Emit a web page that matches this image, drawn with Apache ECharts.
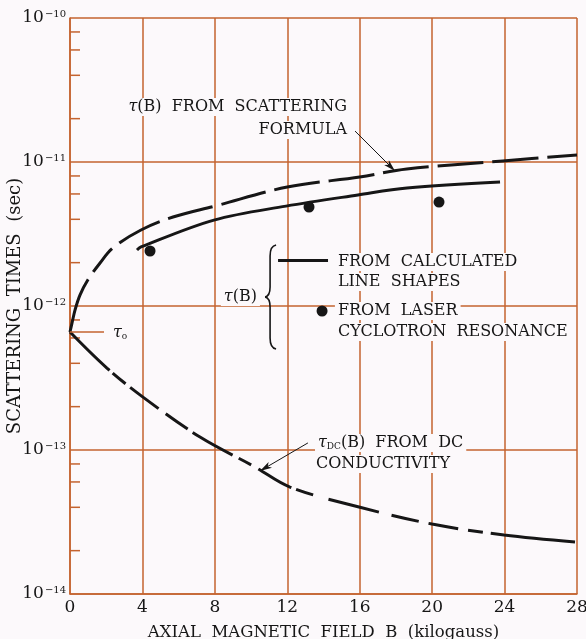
<!DOCTYPE html>
<html>
<head>
<meta charset="utf-8">
<script src="https://cdn.jsdelivr.net/npm/echarts@6/dist/echarts.min.js"></script>
<style>
  html, body { margin: 0; padding: 0; background: #fcf9fb; }
  #c { width: 586px; height: 639px; }
</style>
</head>
<body>
<div id="c"></div>
<script>
// Scattering times vs axial magnetic field (log scale in seconds)
const fieldMin = 0, fieldMax = 28, fieldStep = 4;
const tauMin = 1e-14, tauMax = 1e-10;
const decadeExps = [-14, -13, -12, -11];
const minorMantissas = [2, 4, 6, 8];
const tau0 = 6.6e-13;

// tau(B) from the scattering formula
const formulaB   = [0, 0.11, 0.28, 0.55, 0.99, 1.66, 2.37, 3.92, 5.69, 8, 12, 16, 18.6, 23.9, 28];
const formulaTau = [6.6e-13, 7.6e-13, 9.4e-13, 1.19e-12, 1.52e-12, 1.99e-12, 2.53e-12, 3.37e-12,
                    4.15e-12, 4.94e-12, 6.7e-12, 7.87e-12, 8.93e-12, 1.016e-11, 1.12e-11];

// tau(B) from calculated line shapes
const shapeB   = [3.7, 3.92, 7.95, 11.93, 15.9, 18.61, 23.75];
const shapeTau = [2.45e-12, 2.57e-12, 3.95e-12, 4.94e-12, 5.9e-12, 6.59e-12, 7.26e-12];

// tau(B) from laser cyclotron resonance
const laserB   = [4.42, 13.2, 20.38];
const laserTau = [2.41e-12, 4.87e-12, 5.27e-12];

// tau_DC(B) from DC conductivity
const dcB   = [0, 2.04, 4.03, 7.18, 10.22, 12.15, 15.96, 19.99, 23.97, 27.89];
const dcTau = [6.6e-13, 3.71e-13, 2.33e-13, 1.23e-13, 7.62e-14, 5.53e-14, 4.02e-14, 3.06e-14, 2.57e-14, 2.30e-14];

const GRID = '#c4632f';
const INK = '#161616';
const BG = '#fcf9fb';
const FONT = '"DejaVu Serif", "Liberation Serif", serif';

const zip = (xs, ys) => xs.map((x, i) => [x, ys[i]]);

const minorTicks = [];
decadeExps.forEach(e => minorMantissas.forEach(m => minorTicks.push([0, m * Math.pow(10, e)])));

const chart = echarts.init(document.getElementById('c'), null, { renderer: 'canvas' });

const option = {
  animation: false,
  backgroundColor: BG,
  grid: { left: 70, right: 9, top: 18, bottom: 45, containLabel: false, outerBoundsMode: 'none' },
  xAxis: {
    type: 'value', min: fieldMin, max: fieldMax, interval: fieldStep,
    name: 'AXIAL  MAGNETIC  FIELD  B  (kilogauss)',
    nameLocation: 'middle', nameGap: 30, nameMoveOverlap: false,
    nameTextStyle: { fontFamily: FONT, fontSize: 16.5, color: INK },
    axisLine: { show: true, lineStyle: { color: GRID, width: 1.5 } },
    axisTick: { show: false },
    axisLabel: { fontFamily: FONT, fontSize: 17, color: INK, margin: 5 },
    splitLine: { show: true, lineStyle: { color: GRID, width: 1.5 } }
  },
  yAxis: {
    type: 'log', logBase: 10, min: tauMin, max: tauMax, splitNumber: 4,
    name: 'SCATTERING  TIMES  (sec)',
    nameLocation: 'middle', nameGap: 46, nameRotate: 90, nameMoveOverlap: false,
    nameTextStyle: { fontFamily: FONT, fontSize: 18, color: INK },
    axisLine: { show: true, lineStyle: { color: GRID, width: 1.5 } },
    axisTick: { show: false },
    minorTick: { show: false },
    axisLabel: {
      margin: 4,
      formatter: v => '{m|10}{e|−' + (-Math.round(Math.log10(v))) + '}',
      rich: {
        m: { fontFamily: FONT, fontSize: 17, color: INK },
        e: { fontFamily: FONT, fontSize: 10, color: INK, verticalAlign: 'top', padding: [0, 0, 0, 1] }
      }
    },
    splitLine: { show: true, lineStyle: { color: GRID, width: 1.5 } }
  },
  series: [
    {
      name: 'minor ticks', type: 'custom', silent: true, z: 1,
      data: minorTicks,
      renderItem: (params, api) => {
        const p = api.coord([api.value(0), api.value(1)]);
        return { type: 'line', shape: { x1: p[0], y1: p[1], x2: p[0] + 10, y2: p[1] },
                 style: { stroke: GRID, lineWidth: 1.5 } };
      }
    },
    {
      name: 'scattering formula', type: 'line', data: zip(formulaB, formulaTau),
      smooth: 0.35, symbol: 'none', z: 3,
      lineStyle: { color: INK, width: 3, cap: 'butt',
                   type: [56, 9, 30, 9, 46, 9, 46, 9, 46, 9, 46, 9, 46, 9, 46, 9, 46, 9, 46, 9, 50, 9, 60] },
      markLine: {
        silent: true, animation: false, symbol: ['none', 'arrow'], symbolSize: [5, 12],
        label: { show: false },
        lineStyle: { color: INK, width: 1, type: 'solid' },
        data: [[{ coord: [15.74, 1.64e-11] }, { coord: [17.95, 8.66e-12] }]]
      }
    },
    {
      name: 'line shapes', type: 'line', data: zip(shapeB, shapeTau),
      smooth: 0.35, symbol: 'none', z: 3,
      lineStyle: { color: INK, width: 3 },
      markLine: {
        silent: true, animation: false, symbol: ['none', 'none'],
        label: { show: false },
        lineStyle: { color: INK, width: 3, type: 'solid' },
        data: [[{ coord: [11.49, 2.08e-12] }, { coord: [14.25, 2.08e-12] }]]
      }
    },
    {
      name: 'laser', type: 'scatter', data: zip(laserB, laserTau),
      symbol: 'circle', symbolSize: 11, itemStyle: { color: INK, opacity: 1 }, z: 4,
      markPoint: {
        silent: true, animation: false, symbol: 'circle', symbolSize: 11,
        itemStyle: { color: INK, opacity: 1 }, label: { show: false },
        data: [{ coord: [13.92, 9.23e-13] }]
      }
    },
    {
      name: 'dc conductivity', type: 'line', data: zip(dcB, dcTau),
      smooth: 0.35, symbol: 'none', z: 3,
      lineStyle: { color: INK, width: 3, cap: 'butt',
                   type: [55, 4, 17, 6, 35, 9, 27, 6, 46, 7, 14, 8, 38, 5, 18, 16, 52, 13, 28, 10, 30, 10, 15, 8, 100] },
      markLine: {
        silent: true, animation: false, symbol: ['none', 'arrow'], symbolSize: [5, 12],
        label: { show: false },
        lineStyle: { color: INK, width: 1, type: 'solid' },
        data: [
          [{ coord: [13.14, 1.12e-13] }, { coord: [10.49, 7.15e-14] }],
          [{ coord: [0, tau0], symbol: 'none', lineStyle: { color: GRID, width: 1.5 } },
           { coord: [1.88, tau0], symbol: 'none' }]
        ]
      }
    }
  ]
};
chart.setOption(option);

// Text annotations, anchored in data coordinates [B, tau]
const rich = {
  t: { fontFamily: FONT, fontSize: 16, fontStyle: 'italic', color: INK },
  sub: { fontFamily: FONT, fontSize: 9, color: INK, verticalAlign: 'bottom' }
};
const notes = [
  { text: '{t|τ}(B)  FROM  SCATTERING', at: [15.46, 2.41e-11], align: 'right' },
  { text: 'FORMULA', at: [15.46, 1.67e-11], align: 'right' },
  { text: '{t|τ}(B)', at: [10.49, 1.155e-12], align: 'right' },
  { text: 'FROM  CALCULATED', at: [14.63, 2.02e-12], align: 'left' },
  { text: 'LINE  SHAPES', at: [14.63, 1.47e-12], align: 'left' },
  { text: 'FROM  LASER', at: [14.63, 9.23e-13], align: 'left' },
  { text: 'CYCLOTRON  RESONANCE', at: [14.63, 6.59e-13], align: 'left' },
  { text: '{t|τ}{sub|o}', at: [2.21, 6.5e-13], align: 'left', noBg: true },
  { text: '{t|τ}{sub|DC}(B)  FROM  DC', at: [13.53, 1.12e-13], align: 'left' },
  { text: 'CONDUCTIVITY', at: [13.42, 8.0e-14], align: 'left' }
];
const braceAt = [11.05, 1.155e-12];

const px = at => chart.convertToPixel({ gridIndex: 0 }, at);
const graphics = notes.map(n => {
  const p = px(n.at);
  return {
    type: 'text', x: p[0], y: p[1], z: 50,
    style: {
      text: n.text, fontFamily: FONT, fontSize: 16, fill: INK,
      font: '16px ' + FONT,
      align: n.align, textAlign: n.align,
      verticalAlign: 'middle', textVerticalAlign: 'middle',
      backgroundColor: n.noBg ? 'transparent' : BG,
      padding: [1, 3, 1, 3],
      rich: rich
    }
  };
});

// Curly brace grouping the two tau(B) legend entries
const bp = px(braceAt);
const braceStyle = { stroke: INK, lineWidth: 1.6, fill: null };
const curve = (x1, y1, cx, cy, x2, y2) => ({
  type: 'bezierCurve', shape: { x1, y1, cpx1: cx, cpy1: cy, x2, y2 }, style: braceStyle
});
const seg = (x1, y1, x2, y2) => ({ type: 'line', shape: { x1, y1, x2, y2 }, style: braceStyle });
graphics.push({
  type: 'group', x: bp[0], y: bp[1], z: 50,
  children: [
    curve(6, -52, 0, -51, 0, -41),
    seg(0, -41, 0, -10),
    curve(0, -10, 0, -1, -5, 0),
    curve(-5, 0, 0, 1, 0, 10),
    seg(0, 10, 0, 41),
    curve(0, 41, 0, 51, 6, 52)
  ]
});
chart.setOption({ graphic: graphics });
</script>
</body>
</html>
